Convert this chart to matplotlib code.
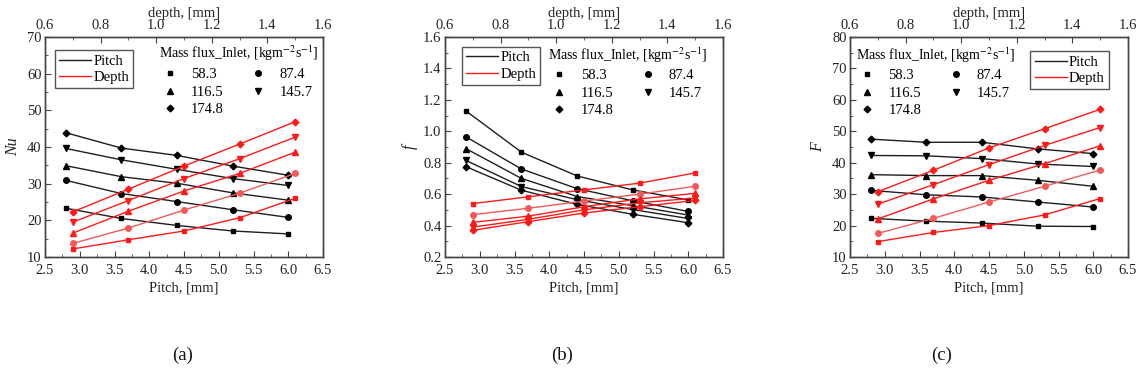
import matplotlib
matplotlib.use("Agg")
import matplotlib.pyplot as plt
from matplotlib.lines import Line2D
from matplotlib.ticker import MultipleLocator

plt.rcParams['font.family'] = ['Liberation Serif', 'DejaVu Serif']
plt.rcParams['mathtext.fontset'] = 'stix'

# ---------------- data ----------------
mass_flux = ["58.3", "87.4", "116.5", "145.7", "174.8"]
markers = ['s', 'o', '^', 'v', 'D']
pitch = [2.8, 3.6, 4.4, 5.2, 6.0]
depth = [0.7, 0.9, 1.1, 1.3, 1.5]

nu_pitch = {
    "58.3": [23.3, 20.5, 18.6, 17.1, 16.3],
    "87.4": [30.9, 27.3, 25.1, 22.9, 20.8],
    "116.5": [34.9, 31.9, 30.1, 27.5, 25.5],
    "145.7": [39.6, 36.5, 33.9, 31.4, 29.5],
    "174.8": [43.9, 39.7, 37.7, 34.8, 32.3],
}
nu_depth = {
    "58.3": [12.2, 14.7, 17.1, 20.7, 26.0],
    "87.4": [13.7, 17.9, 22.8, 27.4, 32.8],
    "116.5": [16.5, 22.5, 28.0, 32.8, 38.6],
    "145.7": [19.5, 25.4, 31.4, 36.8, 42.7],
    "174.8": [22.3, 28.5, 34.8, 40.8, 46.9],
}
f_pitch = {
    "58.3": [1.13, 0.867, 0.716, 0.627, 0.563],
    "87.4": [0.965, 0.76, 0.635, 0.558, 0.49],
    "116.5": [0.89, 0.70, 0.585, 0.527, 0.467],
    "145.7": [0.815, 0.648, 0.565, 0.502, 0.445],
    "174.8": [0.775, 0.625, 0.535, 0.472, 0.418],
}
f_depth = {
    "58.3": [0.54, 0.583, 0.627, 0.67, 0.735],
    "87.4": [0.47, 0.51, 0.556, 0.60, 0.65],
    "116.5": [0.42, 0.46, 0.52, 0.57, 0.605],
    "145.7": [0.39, 0.44, 0.50, 0.545, 0.575],
    "174.8": [0.37, 0.425, 0.48, 0.52, 0.56],
}
F_pitch = {
    "58.3": [22.3, 21.4, 20.8, 19.8, 19.7],
    "87.4": [31.2, 29.8, 29.1, 27.5, 25.9],
    "116.5": [36.2, 35.9, 35.9, 34.4, 32.5],
    "145.7": [42.3, 42.2, 41.3, 39.6, 38.8],
    "174.8": [47.5, 46.5, 46.5, 44.4, 42.9],
}
F_depth = {
    "58.3": [14.9, 17.8, 20.0, 23.4, 28.6],
    "87.4": [17.5, 22.3, 27.5, 32.5, 37.7],
    "116.5": [22.1, 28.5, 34.4, 39.7, 45.4],
    "145.7": [26.8, 33.0, 39.4, 45.5, 51.2],
    "174.8": [30.8, 37.6, 44.7, 50.8, 57.0],
}

panels = [
    dict(pv=nu_pitch, dv=nu_depth, ylim=(10, 70), major=10, minor=5, ylabel='Nu',
         x=45, lab='(a)', labx=183, line_leg=('upper left', (0.036, 0.94)), mk_leg=(0.405, 0.975)),
    dict(pv=f_pitch, dv=f_depth, ylim=(0.2, 1.6), major=0.2, minor=0.1, ylabel='f',
         x=445, lab='(b)', labx=562, line_leg=('upper left', (0.061, 0.955)), mk_leg=(0.367, 0.97)),
    dict(pv=F_pitch, dv=F_depth, ylim=(10, 80), major=10, minor=5, ylabel='F',
         x=850, lab='(c)', labx=942, line_leg=('upper right', (0.931, 0.936)), mk_leg=(0.018, 0.97)),
]

W, H = 1137, 379
fig = plt.figure(figsize=(W / 100, H / 100), dpi=100)

spine_c = '#444444'
black_c = '#1e1e1e'
red_c = '#ff1a1a'
light_red = '#f25a5a'
FS = 10.5


def msize(m):
    return {'s': 3.4, 'o': 4.0, '^': 3.8, 'v': 3.8, 'D': 3.4}[m]


for p in panels:
    ax = fig.add_axes([p['x'] / W, 1 - 257 / H, 278 / W, 220 / H])
    ax2 = ax.twiny()
    ax.set_xlim(2.5, 6.5)
    ax2.set_xlim(0.6, 1.6)
    ax.set_ylim(*p['ylim'])
    for k, m in zip(mass_flux, markers):
        ax.plot(pitch, p['pv'][k], color=black_c, lw=1.0, marker=m, ms=msize(m),
                markerfacecolor='black', markeredgecolor='black', zorder=3)
        rc = light_red if k == "87.4" else red_c
        ax2.plot(depth, p['dv'][k], color=rc, lw=1.0, marker=m, ms=msize(m),
                 markerfacecolor=rc, markeredgecolor=rc, zorder=3)

    ax.xaxis.set_major_locator(MultipleLocator(0.5))
    ax.xaxis.set_minor_locator(MultipleLocator(0.25))
    ax.yaxis.set_major_locator(MultipleLocator(p['major']))
    ax.yaxis.set_minor_locator(MultipleLocator(p['minor']))
    ax2.xaxis.set_major_locator(MultipleLocator(0.2))
    ax2.xaxis.set_minor_locator(MultipleLocator(0.1))
    if p['major'] < 1:
        ax.yaxis.set_major_formatter(plt.FuncFormatter(lambda v, _: f"{v:.1f}"))
    else:
        ax.yaxis.set_major_formatter(plt.FuncFormatter(lambda v, _: f"{v:.0f}"))
    ax.xaxis.set_major_formatter(plt.FuncFormatter(lambda v, _: f"{v:.1f}"))
    ax2.xaxis.set_major_formatter(plt.FuncFormatter(lambda v, _: f"{v:.1f}"))

    for a in (ax, ax2):
        for s in a.spines.values():
            s.set_color(spine_c)
            s.set_linewidth(1.0)
    ax.tick_params(axis='both', which='both', direction='in', colors=spine_c,
                   labelcolor='#222222', labelsize=FS, right=False, top=False)
    ax.tick_params(axis='x', pad=5)
    ax.tick_params(axis='y', pad=2.5)
    ax.tick_params(which='major', length=4)
    ax.tick_params(which='minor', length=2)
    ax2.tick_params(axis='x', which='both', direction='in', colors=spine_c,
                    labelcolor='#222222', labelsize=FS, pad=3.5)
    ax2.tick_params(which='major', length=4)
    ax2.tick_params(which='minor', length=2)

    ax.set_xlabel('Pitch, [mm]', fontsize=FS, color='#222222', labelpad=3)
    ax2.set_xlabel('depth, [mm]', fontsize=FS, color='#222222', labelpad=1.5)
    ax.set_ylabel(p['ylabel'], fontsize=11.5, style='italic', color='#222222', labelpad=4)

    # line-type legend
    h1 = [Line2D([], [], color=black_c, lw=1.0), Line2D([], [], color=red_c, lw=1.0)]
    loc, anchor = p['line_leg']
    leg1 = ax2.legend(h1, ['Pitch', 'Depth'], loc=loc, bbox_to_anchor=anchor,
                      fontsize=FS, fancybox=False, framealpha=1, edgecolor='#555555',
                      handlelength=2.2, handletextpad=0.12, borderpad=0.3,
                      labelspacing=0.2, borderaxespad=0)
    leg1.get_frame().set_linewidth(1.0)
    ax2.add_artist(leg1)

    # mass flux legend
    order = ["58.3", "116.5", "174.8", "87.4", "145.7"]
    mk = dict(zip(mass_flux, markers))
    h2 = [Line2D([], [], ls='none', marker=mk[k], color='black', ms=msize(mk[k]))
          for k in order]
    leg2 = ax2.legend(h2, order, loc='upper left', bbox_to_anchor=p['mk_leg'], ncol=2,
                      fontsize=FS, frameon=False, title='Mass flux_Inlet, [kgm$^{-2}$s$^{-1}$]',
                      title_fontsize=10, handlelength=1.5, handletextpad=0.7,
                      columnspacing=1.6, labelspacing=0.3, borderaxespad=0, borderpad=0.1)
    leg2._legend_box.align = 'left'

    fig.text(p['labx'] / W, 1 - 355 / H, p['lab'], fontsize=13.5, ha='center', va='center',
             color='#111111')

fig.savefig('out.png', dpi=100, facecolor='white')
